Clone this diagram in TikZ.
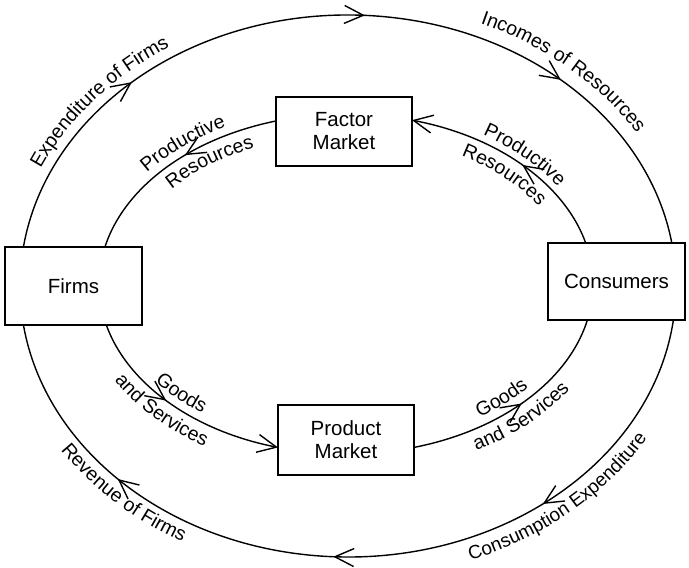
\documentclass[tikz,border=0pt]{standalone}
\usepackage{fontspec}
\setmainfont{Liberation Sans}
\usetikzlibrary{arrows.meta,decorations.markings,decorations.text,calc}
\newcommand\lblfont{\fontsize{19.5}{22}\selectfont}
\newcommand\lblsmall{\fontsize{19}{21}\selectfont}
\newcommand\boxfont{\fontsize{20.5}{23}\selectfont}
% [#1 font] #2 centre, #3 rx, #4 ry, #5 start angle, #6 end angle, #7 radial offset of baseline, #8 text
\newcommand\arclabel[8][\lblfont]{%
  \path[decorate,decoration={text along path,text align=center,
        text={|#1|#8}}]
    ($(#2)+({(#3+#7)*cos(#5)},{(#4+#7)*sin(#5)})$)
    arc[start angle=#5,end angle=#6,x radius={(#3+#7)*1pt},y radius={(#4+#7)*1pt}];}
\begin{document}
\begin{tikzpicture}[x=1pt,y=1pt,line width=1.4pt,
  >={Straight Barb[length=19pt,width=18pt]},
  box/.style={draw,line width=1.4pt,inner sep=0pt,align=center,font=\boxfont},
  marr/.style={postaction={decorate,decoration={markings,
      mark=at position #1 with {\arrow{>}}}}}]
\fill[white] (0,0) rectangle (689,568);
\useasboundingbox (0,0) rectangle (689,568);

% boxes
\node[box,minimum width=137pt,minimum height=78pt] (firms) at (73.5,282) {Firms};
\node[box,minimum width=137pt,minimum height=77pt] (cons) at (616.5,286.5) {Consumers};
\node[box,minimum width=136pt,minimum height=69pt] (factor) at (344,436.5) {Factor\\Market};
\node[box,minimum width=136pt,minimum height=70pt] (product) at (346,128) {Product\\Market};

\coordinate (O) at (348,282);
\coordinate (I) at (346,284);

% outer circuit: firms -> consumers (top), consumers -> firms (bottom)
\draw[marr=0.235,marr=0.522,marr=0.765]
  ($(O)+({328*cos(171.7)},{271*sin(171.7)})$)
  arc[start angle=171.7,end angle=9.13,x radius=328pt,y radius=271pt];
\draw[marr=0.268,marr=0.520,marr=0.788]
  ($(O)+({328*cos(-7.2)},{271*sin(-7.2)})$)
  arc[start angle=-7.2,end angle=-171.7,x radius=328pt,y radius=271pt];

% inner circuit
% factor market -> firms
\draw[marr=0.44]
  ($(I)+({247*cos(106.46)},{170*sin(106.46)})$)
  arc[start angle=106.46,end angle=167.43,x radius=247pt,y radius=170pt];
% consumers -> factor market
\draw[->,marr=0.46]
  ($(I)+({247*cos(13.96)},{170*sin(13.96)})$)
  arc[start angle=13.96,end angle=74.50,x radius=247pt,y radius=170pt];
% firms -> product market
\draw[->,marr=0.445]
  ($(I)+({247*cos(193.96)},{170*sin(193.96)})$)
  arc[start angle=193.96,end angle=254.02,x radius=247pt,y radius=170pt];
% product market -> consumers
\draw[marr=0.52]
  ($(I)+({247*cos(-74.02)},{170*sin(-74.02)})$)
  arc[start angle=-74.02,end angle=-12.23,x radius=247pt,y radius=170pt];

% labels on the outer circuit
\arclabel{O}{328}{271}{169.5}{109.5}{10}{Expenditure of Firms}
\arclabel{O}{328}{271}{79}{19}{14}{Incomes of Resources}
\arclabel{O}{328}{271}{197}{257}{20}{Revenue of Firms}
\arclabel[\lblsmall]{O}{328}{271}{-82}{-17}{22}{Consumption Expenditure}

% labels on the inner circuit
\arclabel{I}{247}{170}{156}{106}{8}{Productive}
\arclabel{I}{247}{170}{153.5}{103.5}{-21}{Resources}
\arclabel{I}{247}{170}{69}{19}{7}{Productive}
\arclabel{I}{247}{170}{69}{19}{-21}{Resources}
\arclabel{I}{247}{170}{198.3}{248.3}{-8}{Goods}
\arclabel{I}{247}{170}{198}{248}{21}{and Services}
\arclabel{I}{247}{170}{-71.2}{-21.2}{-9}{Goods}
\arclabel{I}{247}{170}{-71}{-21}{21}{and Services}
\end{tikzpicture}
\end{document}
